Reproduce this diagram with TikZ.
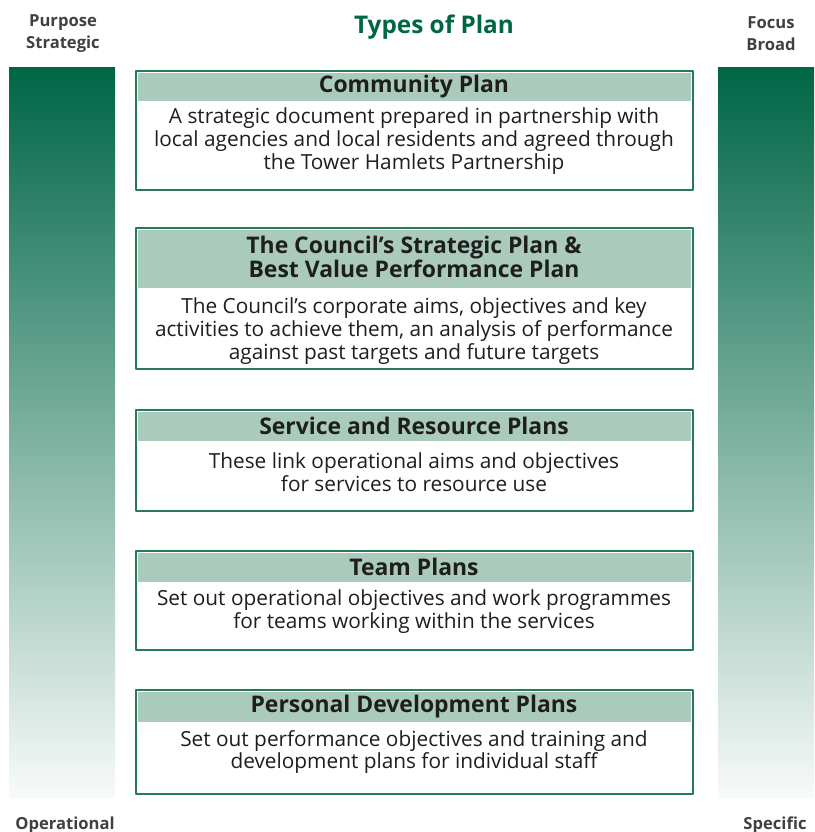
\documentclass[tikz,border=0pt]{standalone}
\usepackage{fontspec}
\setmainfont{Open Sans}
\definecolor{plangreen}{RGB}{0,102,70}
\definecolor{headgreen}{RGB}{170,203,188}
\definecolor{linegreen}{RGB}{40,120,90}
\definecolor{textgrey}{RGB}{30,30,30}
\tikzset{
	planbox/.style={draw=linegreen,line width=1.6pt,fill=white},
	planhead/.style={fill=headgreen},
	headtext/.style={font=\fontsize{16.3}{15.6}\selectfont\bfseries,align=center,text=textgrey},
	bodytext/.style={font=\fontsize{14.8}{16.3}\selectfont,align=center,text=textgrey},
	sidetext/.style={font=\fontsize{11.8}{15.6}\selectfont\bfseries,align=center,text=black!75}
}
\begin{document}
\begin{tikzpicture}[x=.025cm,y=-.025cm,line join=round]
	\useasboundingbox (0,0) rectangle (814,832);
	% side bars
	\shade[top color=plangreen,middle color=plangreen!55!white,bottom color=plangreen!3!white] (9,68) rectangle (115,797);
	\shade[top color=plangreen,middle color=plangreen!55!white,bottom color=plangreen!3!white] (718,68) rectangle (814,797);
	\node[text=plangreen,font=\fontsize{17.3}{20}\selectfont\bfseries] (title) at (434,27) {Types of Plan};
	\node[sidetext] (purpose) at (63,34) {Purpose\\Strategic};
	\node[sidetext] (focus) at (771,34) {Focus\\Broad};
	\node[sidetext] (operational) at (65,825) {Operational};
	\node[sidetext] (specific) at (775,825) {Specific};
	% community plan
	\draw[planbox] (136,71) rectangle (693,190);
	\fill[planhead] (138,73) rectangle (691,101);
	\node[headtext] (communityhead) at (414,87) {Community Plan};
	\node[bodytext] (community) at (414,141) {A strategic document prepared in partnership with\\local agencies and local residents and agreed through\\the Tower Hamlets Partnership};
	% strategic plan
	\draw[planbox] (136,228) rectangle (693,369);
	\fill[planhead] (138,230) rectangle (691,288);
	\node[headtext] (strategichead) at (414,257) {The Council’s Strategic Plan \&\\Best Value Performance Plan};
	\node[bodytext] (strategic) at (414,331) {The Council’s corporate aims, objectives and key\\activities to achieve them, an analysis of performance\\against past targets and future targets};
	% service plans
	\draw[planbox] (136,410) rectangle (693,511);
	\fill[planhead] (138,412) rectangle (691,441);
	\node[headtext] (servicehead) at (414,426) {Service and Resource Plans};
	\node[bodytext] (service) at (414,472) {These link operational aims and objectives\\for services to resource use};
	% team plans
	\draw[planbox] (136,551) rectangle (693,650);
	\fill[planhead] (138,553) rectangle (691,582);
	\node[headtext] (teamhead) at (414,567) {Team Plans};
	\node[bodytext] (team) at (414,612) {Set out operational objectives and work programmes\\for teams working within the services};
	% personal plans
	\draw[planbox] (136,690) rectangle (693,794);
	\fill[planhead] (138,692) rectangle (691,722);
	\node[headtext] (personalhead) at (414,707) {Personal Development Plans};
	\node[bodytext] (personal) at (414,752) {Set out performance objectives and training and\\development plans for individual staff};
\end{tikzpicture}
\end{document}
